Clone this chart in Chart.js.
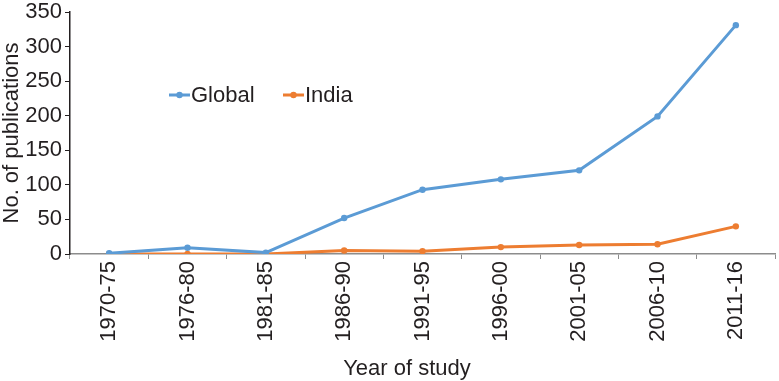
<!DOCTYPE html>
<html>
<head>
<meta charset="utf-8">
<script src="https://cdn.jsdelivr.net/npm/chart.js@4/dist/chart.umd.min.js"></script>
<style>
html,body{margin:0;padding:0;background:#fff;}
#wrap{width:779px;height:381px;position:relative;}
</style>
</head>
<body>
<div id="wrap"><canvas id="c" width="779" height="381"></canvas></div>
<script>
const categories = ["1970-75","1976-80","1981-85","1986-90","1991-95","1996-00","2001-05","2006-10","2011-16"];
const seriesNames = ["Global","India"];
const globalValues = [1, 9, 2, 52, 93, 108, 121, 199, 331];
const indiaValues = [0, 0, 0, 5, 4, 10, 13, 14, 40];
const yTicks = [0, 50, 100, 150, 200, 250, 300, 350];
const xTitle = "Year of study";
const yTitle = "No. of publications";

const FONT = "'Liberation Sans', Arial, sans-serif";
const TEXT = "#231f20";
const BLUE = "#5b9bd5";
const ORANGE = "#ed7d31";

const legendPlugin = {
  id: 'inlineLegend',
  afterDraw(chart) {
    const ctx = chart.ctx;
    const items = [
      {x: 169, label: seriesNames[0], color: BLUE},
      {x: 283, label: seriesNames[1], color: ORANGE}
    ];
    const y = 95;
    ctx.save();
    ctx.font = "22px " + FONT;
    ctx.textBaseline = 'middle';
    items.forEach(it => {
      ctx.strokeStyle = it.color;
      ctx.lineWidth = 3;
      ctx.beginPath();
      ctx.moveTo(it.x, y);
      ctx.lineTo(it.x + 21, y);
      ctx.stroke();
      ctx.fillStyle = it.color;
      ctx.beginPath();
      ctx.arc(it.x + 10.5, y, 3.2, 0, Math.PI * 2);
      ctx.fill();
      ctx.fillStyle = TEXT;
      ctx.fillText(it.label, it.x + 22, y + 1);
    });
    // x axis title, centred slightly left of the plot centre as in the source figure
    ctx.textAlign = 'center';
    ctx.fillText(xTitle, 407, 369);
    ctx.restore();
  }
};

function zeroPad(scale) {
  scale.paddingTop = 0; scale.paddingBottom = 0;
  scale.paddingLeft = 0; scale.paddingRight = 0;
}

new Chart(document.getElementById('c'), {
  type: 'line',
  data: {
    labels: categories,
    datasets: [
      {label: seriesNames[0], data: globalValues, borderColor: BLUE, backgroundColor: BLUE, borderWidth: 3, pointRadius: 3.2, pointBorderWidth: 0, tension: 0},
      {label: seriesNames[1], data: indiaValues, borderColor: ORANGE, backgroundColor: ORANGE, borderWidth: 3, pointRadius: 3.2, pointBorderWidth: 0, tension: 0}
    ]
  },
  options: {
    responsive: false,
    animation: false,
    layout: {padding: {top: 12, right: 2, left: 0, bottom: 0}},
    plugins: {legend: {display: false}, tooltip: {enabled: false}},
    scales: {
      x: {
        offset: true,
        grid: {display: true, drawOnChartArea: false, drawTicks: true, offset: true, tickLength: 5, color: '#8c8c8c', lineWidth: 1},
        border: {display: true, color: '#8c8c8c', width: 1.5},
        ticks: {maxRotation: 90, minRotation: 90, autoSkip: false, color: TEXT, font: {family: FONT, size: 22}, padding: 2},
        title: {display: false},
        afterFit(scale) { scale.height = 127; zeroPad(scale); }
      },
      y: {
        min: 0, max: 350,
        afterBuildTicks(scale) { scale.ticks = yTicks.map(v => ({value: v})); },
        grid: {display: true, drawOnChartArea: false, drawTicks: true, tickLength: 5, color: '#231f20', lineWidth: 1},
        border: {display: true, color: '#231f20', width: 1.5},
        ticks: {color: TEXT, font: {family: FONT, size: 22}, padding: 3},
        title: {display: true, text: yTitle, color: TEXT, font: {family: FONT, size: 22}, padding: {top: -1, bottom: 0}},
        afterFit(scale) { scale.width = 70; zeroPad(scale); }
      }
    }
  },
  plugins: [legendPlugin]
});
</script>
</body>
</html>
